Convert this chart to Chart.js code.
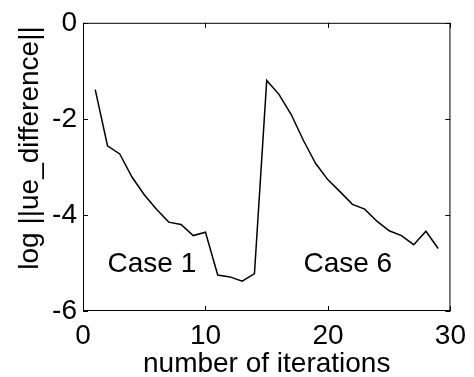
<!DOCTYPE html>
<html>
<head>
<meta charset="utf-8">
<script src="https://cdn.jsdelivr.net/npm/chart.js@4"></script>
<style>
  html, body { margin: 0; padding: 0; background: #fff; }
  #wrap { width: 474px; height: 377px; }
</style>
</head>
<body>
<div id="wrap"><canvas id="chart" width="474" height="377"></canvas></div>
<script>
// data
const iterations = [1, 2, 3, 4, 5, 6, 7, 8, 9, 10, 11, 12, 13, 14, 15,
                    16, 17, 18, 19, 20, 21, 22, 23, 24, 25, 26, 27, 28, 29];
const logDiff = [-1.39, -2.56, -2.73, -3.21, -3.58, -3.88, -4.15, -4.20, -4.43, -4.36,
                 -5.25, -5.29, -5.38, -5.22, -1.20, -1.49, -1.91, -2.45, -2.93, -3.27,
                 -3.52, -3.78, -3.88, -4.13, -4.33, -4.43, -4.62, -4.34, -4.70];
const xTicks = [0, 10, 20, 30];
const yTicks = [-6, -4, -2, 0];
const notes = [
  { text: "Case 1", x: 2.0, y: -5.02 },
  { text: "Case 6", x: 18.0, y: -5.02 },
];

const FONT = "'Liberation Sans', Arial, Helvetica, sans-serif";
const INK = "#000";

// matlab-style box with inward ticks, notes and axis titles
const boxPlugin = {
  id: "box",
  afterDraw(chart) {
    const { ctx, chartArea: a, scales } = chart;
    const xs = scales.x, ys = scales.y;
    ctx.save();
    ctx.strokeStyle = INK;
    ctx.lineWidth = 1;
    ctx.strokeRect(a.left + 0.5, a.top + 0.5, a.right - a.left - 1, a.bottom - a.top - 1);

    const len = 5;
    ctx.beginPath();
    xTicks.forEach(v => {
      const px = Math.round(xs.getPixelForValue(v)) + 0.5;
      ctx.moveTo(px, a.bottom); ctx.lineTo(px, a.bottom - len);
      ctx.moveTo(px, a.top);    ctx.lineTo(px, a.top + len);
    });
    yTicks.forEach(v => {
      const py = Math.round(ys.getPixelForValue(v)) + 0.5;
      ctx.moveTo(a.left, py);  ctx.lineTo(a.left + len, py);
      ctx.moveTo(a.right, py); ctx.lineTo(a.right - len, py);
    });
    ctx.stroke();

    ctx.fillStyle = INK;
    ctx.font = "28px " + FONT;
    ctx.textAlign = "left";
    ctx.textBaseline = "middle";
    notes.forEach(n => {
      ctx.fillText(n.text, xs.getPixelForValue(n.x), ys.getPixelForValue(n.y));
    });

    // axis titles
    ctx.textAlign = "center";
    ctx.textBaseline = "alphabetic";
    ctx.fillText("number of iterations", (a.left + a.right) / 2, 372);
    ctx.translate(38, 148);
    ctx.rotate(-Math.PI / 2);
    ctx.fillText("log ||ue_difference||", 0, 0);
    ctx.restore();
  }
};

new Chart(document.getElementById("chart"), {
  type: "line",
  data: {
    datasets: [{
      data: iterations.map((x, i) => ({ x: x, y: logDiff[i] })),
      borderColor: INK,
      borderWidth: 1.5,
      pointRadius: 0,
      tension: 0,
      fill: false,
    }]
  },
  options: {
    responsive: false,
    animation: false,
    devicePixelRatio: 1,
    layout: { padding: { top: 16, right: 22, left: 0, bottom: 0 } },
    plugins: { legend: { display: false }, tooltip: { enabled: false } },
    scales: {
      x: {
        type: "linear",
        min: 0, max: 30,
        afterBuildTicks: s => { s.ticks = xTicks.map(v => ({ value: v })); },
        afterFit: s => { s.height = 66; },
        grid: { display: false, drawTicks: false },
        border: { display: false },
        ticks: { color: INK, font: { family: FONT, size: 28 }, padding: 8, maxRotation: 0 }
      },
      y: {
        min: -6, max: 0,
        afterBuildTicks: s => { s.ticks = yTicks.map(v => ({ value: v })); },
        afterFit: s => { s.width = 83; },
        grid: { display: false, drawTicks: false },
        border: { display: false },
        ticks: { color: INK, font: { family: FONT, size: 28 }, padding: 6 }
      }
    }
  },
  plugins: [boxPlugin]
});
</script>
</body>
</html>
